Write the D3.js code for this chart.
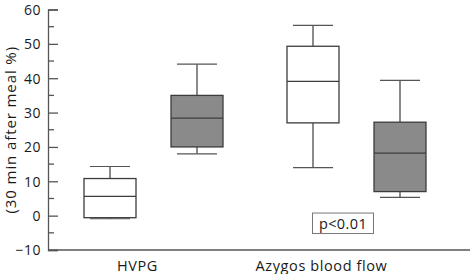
<!DOCTYPE html>
<html><head><meta charset="utf-8">
<script src="https://cdn.jsdelivr.net/npm/d3@7"></script>
<style>
body{margin:0;background:#fff;}
text{font-family:"Open Sans",Lato,sans-serif;fill:#1a1a1a;}
</style></head>
<body><svg id="c" width="470" height="274"></svg>
<script>
const groups = ["HVPG", "Azygos blood flow"];
const series = ["baseline", "treated"];
const whiskerLow = [-0.9, 18.0, 14.0, 5.3];
const q1 =         [-0.6, 20.0, 27.0, 7.0];
const medians =    [5.6, 28.4, 39.1, 18.2];
const q3 =         [10.8, 35.0, 49.3, 27.2];
const whiskerHigh =[14.3, 44.1, 55.4, 39.4];
const boxGroup = ["HVPG", "HVPG", "Azygos blood flow", "Azygos blood flow"];
const boxSeries = ["baseline", "treated", "baseline", "treated"];
const yTicks = [-10, 0, 10, 20, 30, 40, 50, 60];
const yMinorTicks = [-5, 5, 15, 25, 35, 45, 55];
const yTitle = "(30 min after meal %)";
const annotation = "p<0.01";

const svg = d3.select("#c");
const y = d3.scaleLinear().domain([-10, 60]).range([250, 9.5]);
const xg = d3.scalePoint().domain(groups).range([52, 458]).padding(0.5);
const xs = d3.scalePoint().domain(series).range([-43.5, 43.5]);
const fills = d3.scaleOrdinal().domain(series).range(["#ffffff", "#8a8a8a"]);
const boxW = 52, capW = 40;
const axisColor = "#555";

// y axis
const yAxis = d3.axisRight(y).tickValues(yTicks).tickSize(10).tickFormat(d => d < 0 ? "\u2212" + Math.abs(d) : d);
const ga = svg.append("g").attr("transform", "translate(48,0)").call(yAxis);
ga.select(".domain").attr("stroke", axisColor).attr("stroke-width", 1.3);
ga.selectAll(".tick line").attr("stroke", axisColor).attr("stroke-width", 1.3);
ga.selectAll(".tick text").attr("x", -7).attr("text-anchor", "end")
  .style("font-size", "14px").style("letter-spacing", "0.5px").attr("dy", "0.35em");
svg.append("g").attr("transform", "translate(48,0)")
  .selectAll("line").data(yMinorTicks).join("line")
  .attr("x1", 0).attr("x2", 6).attr("y1", d => y(d)).attr("y2", d => y(d))
  .attr("stroke", axisColor).attr("stroke-width", 1.3);

// x axis line
svg.append("line").attr("x1", 48).attr("x2", 470).attr("y1", y(-10)).attr("y2", y(-10))
  .attr("stroke", axisColor).attr("stroke-width", 1.3);
const labelShift = {"HVPG": -16, "Azygos blood flow": -35};
svg.selectAll("text.xl").data(groups).join("text").attr("class", "xl")
  .attr("x", d => xg(d) + labelShift[d]).attr("y", 271)
  .attr("text-anchor", "middle").style("font-size", "14.5px").style("letter-spacing", "0.6px").text(d => d);

// y title
svg.append("text").attr("transform", `translate(16,${y(25)}) rotate(-90)`)
  .attr("text-anchor", "middle").style("font-size", "15px").style("letter-spacing", "0.9px").text(yTitle);

// boxes
const boxes = boxGroup.map((g, i) => ({g, s: boxSeries[i], lo: whiskerLow[i], q1: q1[i], med: medians[i], q3: q3[i], hi: whiskerHigh[i]}));
const stroke = "#3c3c3c";
const bg = svg.append("g").selectAll("g").data(boxes).join("g")
  .attr("transform", d => `translate(${xg(d.g) + xs(d.s)},0)`);
bg.append("line").attr("x1", 0).attr("x2", 0).attr("y1", d => y(d.hi)).attr("y2", d => y(d.q3)).attr("stroke", stroke).attr("stroke-width", 1.2);
bg.append("line").attr("x1", 0).attr("x2", 0).attr("y1", d => y(d.lo)).attr("y2", d => y(d.q1)).attr("stroke", stroke).attr("stroke-width", 1.2);
bg.append("line").attr("x1", -capW/2).attr("x2", capW/2).attr("y1", d => y(d.hi)).attr("y2", d => y(d.hi)).attr("stroke", "#555").attr("stroke-width", 1.2);
bg.append("line").attr("x1", -capW/2).attr("x2", capW/2).attr("y1", d => y(d.lo)).attr("y2", d => y(d.lo)).attr("stroke", "#555").attr("stroke-width", 1.2);
bg.append("rect").attr("x", -boxW/2).attr("width", boxW)
  .attr("y", d => y(d.q3)).attr("height", d => y(d.q1) - y(d.q3))
  .attr("fill", d => fills(d.s)).attr("stroke", stroke).attr("stroke-width", 1.3);
bg.append("line").attr("x1", -boxW/2).attr("x2", boxW/2).attr("y1", d => y(d.med)).attr("y2", d => y(d.med)).attr("stroke", stroke).attr("stroke-width", 1.3);

// annotation
const ax = xg("Azygos blood flow") - 13.5, ay = y(-2.3);
const an = svg.append("g").attr("transform", `translate(${ax},${ay})`);
an.append("rect").attr("x", -30.5).attr("y", -10.5).attr("width", 61).attr("height", 20.5)
  .attr("fill", "#fff").attr("stroke", "#777").attr("stroke-width", 1);
an.append("text").attr("text-anchor", "middle").attr("dy", "0.36em").style("font-size", "14.5px").style("letter-spacing", "0.4px").text(annotation);
</script></body></html>
